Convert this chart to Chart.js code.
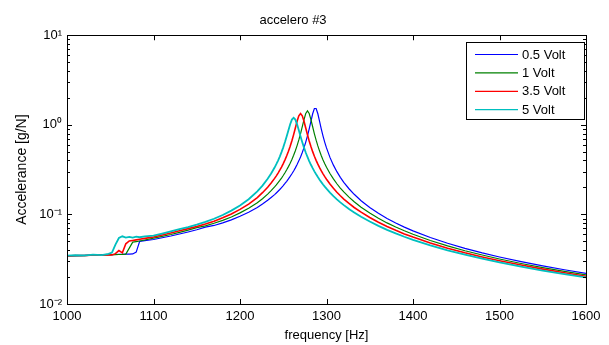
<!DOCTYPE html>
<html><head><meta charset="utf-8">
<script src="https://cdn.jsdelivr.net/npm/chart.js@4/dist/chart.umd.min.js"></script>
<style>html,body{margin:0;padding:0;background:#fff}#wrap{width:609px;height:345px}</style>
</head><body><div id="wrap"><canvas id="c" width="609" height="345"></canvas></div>
<script>
const frequency = [1000,1010,1020,1030,1040,1048,1052,1056,1060,1064,1068,1072,1076,1080,1084,1090,1100,
  1110,1120,1130,1140,1150,1160,1170,1180,1190,1200,1210,1220,1226,1232,1236,1240,
  1242,1244,1246,1248,1250,1252,1254,1256,1258,1260,1262,1264,1266,1268,1270,1272,1274,1276,1278,1280,
  1282,1284,1286,1288,1290,1292,1294,1296,1298,1300,
  1304,1308,1312,1316,1320,1326,1332,1340,1350,1360,1370,1380,1390,1400,1420,1440,1460,1480,1500,1525,1550,1575,1600];

const volt05 = [0.0345,0.0347,0.0349,0.0351,0.0353,0.0355,0.0356,0.0357,0.0358,0.0359,0.0360,0.0361,0.0362,0.0380,0.0500,0.0510,0.0525,
  0.0549,0.0574,0.0604,0.0637,0.0675,0.0720,0.0753,0.0806,0.0870,0.0953,0.1058,0.1197,0.1304,0.1436,0.1544,0.1664,
  0.1736,0.1814,0.1899,0.1994,0.2098,0.2214,0.2343,0.2488,0.2654,0.2841,0.3057,0.3309,0.3606,0.3960,0.4384,0.4910,0.5570,0.6414,0.7530,0.9000,
  1.094,1.329,1.521,1.521,1.329,1.093,0.897,0.7486,0.6376,0.5523,
  0.4332,0.3549,0.3000,0.2596,0.2285,0.1935,0.1677,0.1422,0.1193,0.1028,0.0901,0.0801,0.0721,0.0655,0.0552,0.0476,0.0418,0.0372,0.0335,0.0297,0.0266,0.0241,0.0220];

const volt1 = [0.0344,0.0346,0.0349,0.0350,0.0352,0.0354,0.0355,0.0356,0.0357,0.0358,0.0360,0.0420,0.0490,0.0497,0.0505,0.0518,0.0543,
  0.0569,0.0597,0.0630,0.0667,0.0711,0.0745,0.0796,0.0859,0.0937,0.1040,0.1174,0.1353,0.1497,0.1686,0.1841,0.2028,
  0.2136,0.2258,0.2393,0.2546,0.2719,0.2918,0.3146,0.3416,0.3730,0.4111,0.4571,0.5144,0.5862,0.6783,0.7979,0.9539,1.146,1.339,1.430,1.339,
  1.146,0.9516,0.7942,0.6742,0.5814,0.5093,0.4520,0.4058,0.3676,0.3360,
  0.2862,0.2489,0.2199,0.1970,0.1782,0.1559,0.1384,0.1203,0.1035,0.0906,0.0804,0.0723,0.0656,0.0600,0.0512,0.0445,0.0393,0.0352,0.0318,0.0283,0.0255,0.0231,0.0211];

const volt35 = [0.0342,0.0347,0.0345,0.0352,0.0350,0.0356,0.0353,0.0365,0.0395,0.0372,0.0470,0.0505,0.0512,0.0520,0.0528,0.0540,0.0560,
  0.0588,0.0620,0.0656,0.0694,0.0734,0.0781,0.0841,0.0916,0.1012,0.1137,0.1303,0.1544,0.1747,0.2013,0.2240,0.2525,
  0.2695,0.2892,0.3118,0.3382,0.3691,0.4064,0.4513,0.5070,0.5761,0.6648,0.7777,0.9224,1.0959,1.263,1.339,1.263,1.095,0.9202,0.7742,0.6608,
  0.5714,0.5021,0.4463,0.4012,0.3637,0.3327,0.3062,0.2836,0.2639,0.2468,
  0.2182,0.1954,0.1769,0.1615,0.1485,0.1325,0.1195,0.1059,0.0923,0.0818,0.0733,0.0664,0.0606,0.0558,0.0480,0.0420,0.0373,0.0335,0.0304,0.0272,0.0245,0.0223,0.0204];

const volt5 = [0.0346,0.0350,0.0347,0.0356,0.0351,0.0362,0.0375,0.0460,0.0545,0.0570,0.0552,0.0562,0.0550,0.0566,0.0556,0.0568,0.0579,
  0.0610,0.0645,0.0684,0.0721,0.0768,0.0824,0.0894,0.0985,0.1102,0.1255,0.1476,0.1812,0.2100,0.2499,0.2858,0.3335,
  0.3636,0.3996,0.4426,0.4955,0.5607,0.6424,0.7444,0.8702,1.0135,1.1439,1.200,1.1439,1.013,0.8689,0.7417,0.6390,0.5563,0.4910,0.4378,0.3946,
  0.3584,0.3283,0.3024,0.2804,0.2610,0.2442,0.2293,0.2161,0.2043,0.1937,
  0.1754,0.1602,0.1474,0.1364,0.1269,0.1148,0.1053,0.0942,0.0832,0.0744,0.0672,0.0613,0.0563,0.0520,0.0451,0.0397,0.0355,0.0320,0.0291,0.0261,0.0236,0.0215,0.0198];

const seriesLabels = ['0.5 Volt', '1 Volt', '3.5 Volt', '5 Volt'];
const seriesColors = ['#0000ff', '#008000', '#ff0000', '#00bfbf'];
const xTicks = [1000, 1100, 1200, 1300, 1400, 1500, 1600];
const yTicks = [0.01, 0.1, 1, 10];
const yTickLabels = ['10\u207B\u00B2', '10\u207B\u00B9', '10\u2070', '10\u00B9'];
const chartTitle = 'accelero #3';
const xTitle = 'frequency [Hz]';
const yTitle = 'Accelerance [g/N]';

const FONT = "'Liberation Sans', Arial, Helvetica, sans-serif";
const seriesValues = [volt05, volt1, volt35, volt5];
const widths = [1.2, 1.2, 1.6, 1.8];

const datasets = seriesValues.map((vals, i) => ({
  label: seriesLabels[i],
  data: frequency.map((f, j) => ({x: f, y: vals[j]})),
  borderColor: seriesColors[i],
  backgroundColor: seriesColors[i],
  borderWidth: widths[i],
  pointRadius: 0,
  tension: 0,
  fill: false,
  order: 3 - i
}));

const framePlugin = {
  id: 'frame',
  afterDatasetsDraw(chart) {
    const {ctx, chartArea: a, scales: {x, y}} = chart;
    ctx.save();
    ctx.strokeStyle = '#000';
    ctx.lineWidth = 1;
    ctx.beginPath();
    xTicks.forEach(v => {
      const px = Math.round(x.getPixelForValue(v)) + 0.5;
      ctx.moveTo(px, a.bottom); ctx.lineTo(px, a.bottom - 5);
      ctx.moveTo(px, a.top); ctx.lineTo(px, a.top + 5);
    });
    for (let e = -2; e <= 1; e++) {
      for (let m = 1; m <= 9; m++) {
        const v = m * Math.pow(10, e);
        if (v > 10.0001) break;
        const py = Math.round(y.getPixelForValue(v)) + 0.5;
        const L = m === 1 ? 5 : 3;
        ctx.moveTo(a.left, py); ctx.lineTo(a.left + L, py);
        ctx.moveTo(a.right, py); ctx.lineTo(a.right - L, py);
      }
    }
    ctx.stroke();
    ctx.strokeRect(Math.round(a.left) + 0.5, Math.round(a.top) + 0.5,
      Math.round(a.right - a.left), Math.round(a.bottom - a.top));

    // legend box
    const bx = 466.5, by = 42.5, bw = 118, bh = 77;
    ctx.fillStyle = '#fff';
    ctx.fillRect(bx, by, bw, bh);
    ctx.strokeRect(bx, by, bw, bh);
    ctx.font = '13px ' + FONT;
    ctx.textBaseline = 'middle';
    ctx.textAlign = 'left';
    chart.data.datasets.forEach((ds, i) => {
      const ry = 54.5 + i * 18.4;
      ctx.strokeStyle = ds.borderColor;
      ctx.lineWidth = 1.2;
      ctx.beginPath();
      ctx.moveTo(475, ry); ctx.lineTo(518, ry);
      ctx.stroke();
      ctx.fillStyle = '#000';
      ctx.fillText(ds.label, 522, ry + 0.5);
    });
    ctx.restore();
  }
};

new Chart(document.getElementById('c'), {
  type: 'line',
  data: {datasets},
  options: {
    responsive: false,
    animation: false,
    devicePixelRatio: 1,
    layout: {padding: {left: 0, right: 23, top: 0, bottom: 0}},
    plugins: {
      legend: {display: false},
      tooltip: {enabled: false},
      title: {
        display: true, text: chartTitle, color: '#000',
        font: {family: FONT, size: 13, weight: 'normal', lineHeight: 1.25},
        padding: {top: 12, bottom: 7}
      }
    },
    scales: {
      x: {
        type: 'linear', min: 1000, max: 1600,
        afterBuildTicks: s => { s.ticks = xTicks.map(v => ({value: v})); },
        afterFit: s => { s.height = 41; },
        grid: {display: false, drawTicks: false},
        border: {display: false},
        ticks: {color: '#000', font: {family: FONT, size: 13}, padding: 5, autoSkip: false, maxRotation: 0,
          callback: v => String(v)},
        title: {display: true, text: xTitle, color: '#000', font: {family: FONT, size: 13, lineHeight: 1.2}, padding: {top: 0, bottom: 2}}
      },
      y: {
        type: 'logarithmic', min: 0.01, max: 10,
        afterBuildTicks: s => { s.ticks = yTicks.map(v => ({value: v})); },
        afterFit: s => { s.width = 67; },
        grid: {display: false, drawTicks: false},
        border: {display: false},
        ticks: {color: '#000', font: {family: FONT, size: 13}, padding: 5,
          callback: (v) => { const i = yTicks.findIndex(t => Math.abs(t - v) / t < 1e-6); return i >= 0 ? yTickLabels[i] : ''; }},
        title: {display: true, text: yTitle, color: '#000', font: {family: FONT, size: 14, lineHeight: 1.2}, padding: {top: 14, bottom: 0}}
      }
    }
  },
  plugins: [framePlugin]
});
</script>
</body></html>
